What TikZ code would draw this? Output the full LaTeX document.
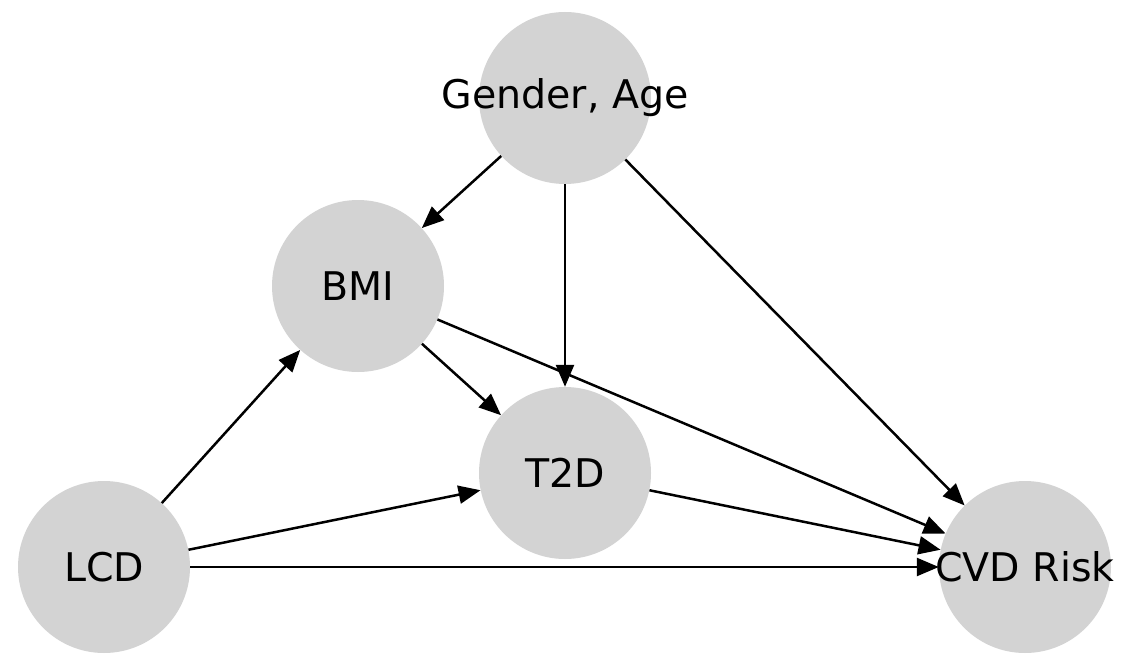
\documentclass[tikz,border=0pt]{standalone}
\usepackage{fontspec}
\setmainfont{DejaVu Sans}
\usetikzlibrary{arrows.meta}
\definecolor{nodegray}{HTML}{D3D3D3}
\newcommand{\lbl}[1]{\makebox[0pt][c]{#1}}
\begin{document}
\begin{tikzpicture}[x=1pt,y=-1pt,
  vnode/.style={circle,fill=nodegray,minimum size=172pt,inner sep=0pt,font=\fontsize{39.5}{41}\selectfont},
  edge/.style={-{Triangle[length=22pt,width=18pt]},line width=2.5pt,black}]
\useasboundingbox (0,0) rectangle (1130,666);
\node[vnode] (ga) at (565,98) {\lbl{Gender, Age}};
\node[vnode] (bmi) at (358,286) {\lbl{BMI}};
\node[vnode] (t2d) at (565,473) {\lbl{T2D}};
\node[vnode] (lcd) at (104,567) {\lbl{LCD}};
\node[vnode] (cvd) at (1025,567) {\lbl{CVD Risk}};
\draw[edge] (ga) -- (bmi);
\draw[edge] (ga) -- (t2d);
\draw[edge] (ga) -- (cvd);
\draw[edge] (bmi) -- (t2d);
\draw[edge] (bmi) -- (cvd);
\draw[edge] (t2d) -- (cvd);
\draw[edge] (lcd) -- (bmi);
\draw[edge] (lcd) -- (t2d);
\draw[edge] (lcd) -- (cvd);
\end{tikzpicture}
\end{document}
